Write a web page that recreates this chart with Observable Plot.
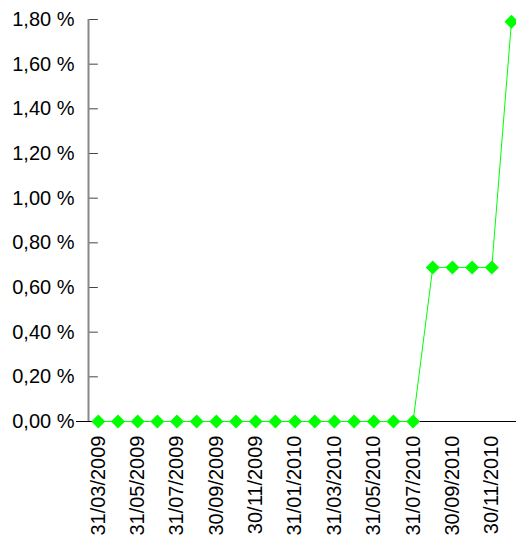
<!DOCTYPE html>
<html>
<head>
<meta charset="utf-8">
<script src="https://cdn.jsdelivr.net/npm/d3@7"></script>
<script src="https://cdn.jsdelivr.net/npm/@observablehq/plot@0.6"></script>
<style>
  html, body { margin: 0; padding: 0; background: #fff; }
  #chart svg { display: block; }
</style>
</head>
<body>
<div id="chart"></div>
<script>
const dates = [
  "31/03/2009", "30/04/2009", "31/05/2009", "30/06/2009", "31/07/2009", "31/08/2009",
  "30/09/2009", "31/10/2009", "30/11/2009", "31/12/2009", "31/01/2010", "28/02/2010",
  "31/03/2010", "30/04/2010", "31/05/2010", "30/06/2010", "31/07/2010", "31/08/2010",
  "30/09/2010", "31/10/2010", "30/11/2010", "31/12/2010"
];
const values = [
  0, 0, 0, 0, 0, 0,
  0, 0, 0, 0, 0, 0,
  0, 0, 0, 0, 0, 0.69,
  0.69, 0.69, 0.69, 1.79
];
const xTickLabels = [
  "31/03/2009", "31/05/2009", "31/07/2009", "30/09/2009", "30/11/2009", "31/01/2010",
  "31/03/2010", "31/05/2010", "31/07/2010", "30/09/2010", "30/11/2010"
];
const yTicks = [0, 0.2, 0.4, 0.6, 0.8, 1.0, 1.2, 1.4, 1.6, 1.8];

const data = dates.map((d, i) => ({i, date: d, value: values[i]}));
const boundaries = dates.map((d, i) => i - 0.5);
const labelData = xTickLabels.map(l => ({i: dates.indexOf(l), label: l}));
const fmt = v => v.toFixed(2).replace(".", ",") + " %";
const font = "'Liberation Sans', Arial, sans-serif";

const chart = Plot.plot({
  width: 516,
  height: 543,
  marginLeft: 76,
  marginRight: 0,
  marginTop: 19,
  marginBottom: 110,
  style: {background: "#fff", fontFamily: font, overflow: "hidden"},
  x: {type: "linear", domain: [-0.5, dates.length - 0.5], range: [88, 520.8], axis: null},
  y: {type: "linear", domain: [0, 1.8], range: [421, 19], axis: null},
  marks: [
    // y axis ticks
    Plot.ruleY(yTicks, {y: d => d, x2: () => -0.5, stroke: "#444", strokeWidth: 1}),
    // y axis line
    Plot.ruleX([-0.5], {x: d => d, y1: () => 1.8, stroke: "#888", strokeWidth: 2}),
    // x ticks at category boundaries
    Plot.ruleX(boundaries, {x: d => d, y1: () => 0, stroke: "#888", strokeWidth: 1.5}),
    // x axis line
    Plot.ruleY([0], {y: d => d, stroke: "#000", strokeWidth: 1}),
    // y labels
    Plot.text(yTicks, {x: () => -0.5, y: d => d, text: fmt, textAnchor: "end", dx: -14, fontSize: 20, fill: "#000"}),
    // x labels
    Plot.text(labelData, {x: "i", y: () => 0, text: "label", rotate: -90, textAnchor: "end", dy: 14, fontSize: 20, fill: "#000"}),
    // series
    Plot.line(data, {x: "i", y: "value", stroke: "#00ff00", strokeWidth: 1}),
    Plot.dot(data, {x: "i", y: "value", symbol: "diamond2", r: 6.3, fill: "#00ff00", stroke: "none"})
  ]
});
document.getElementById("chart").appendChild(chart);
</script>
</body>
</html>
